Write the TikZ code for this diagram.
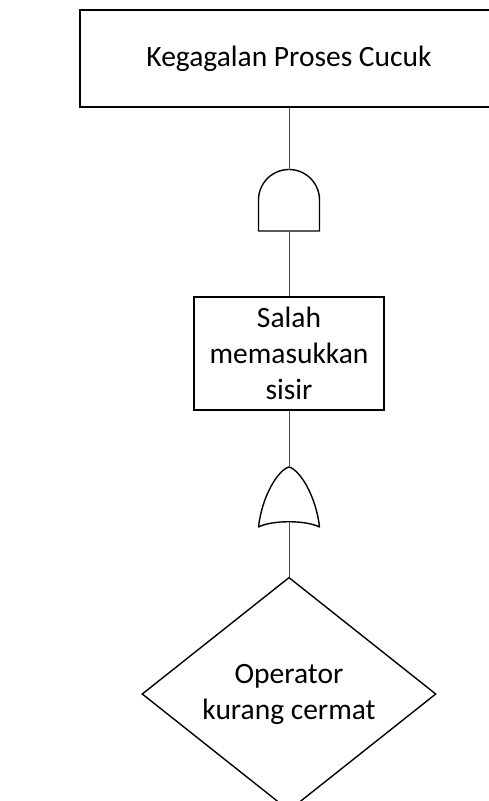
\documentclass[tikz,border=0pt]{standalone}
\usepackage{fontspec}
\setmainfont{Carlito}
\usetikzlibrary{shapes.geometric}

\begin{document}
\begin{tikzpicture}[x=1pt,y=1pt,
  event/.style={draw,line width=1.4pt,align=center,inner sep=0pt,font=\fontsize{29.5}{36}\selectfont},
  gate/.style={draw,line width=1.4pt,line join=round},
  link/.style={draw=black!70,line width=0.9pt}]
\useasboundingbox (0,0) rectangle (488,801);
\node[event,minimum width=418,minimum height=97] (top) at (289,742.5) {Kegagalan Proses Cucuk};
\node[event,minimum width=190,minimum height=113] (salah) at (289,447.5) {Salah\\memasukkan\\sisir};
\node[event,diamond,minimum width=294,minimum height=222] (operator) at (289,107) {Operator\\kurang cermat};
% and gate
\coordinate (andin) at (289,631);
\coordinate (andout) at (289,570);
\draw[gate] (258.5,570) -- (258.5,601) arc (180:0:30.5) -- (319.5,570) -- cycle;
% or gate
\coordinate (orin) at (289,334);
\coordinate (orout) at (289,279.3);
\draw[gate] (258.5,274) .. controls (262,305) and (278,331) .. (orin)
  .. controls (300,331) and (316,305) .. (319.5,274)
  .. controls (306,281) and (272,281) .. (258.5,274) -- cycle;
\draw[link] (top) -- (andin);
\draw[link] (andout) -- (salah);
\draw[link] (salah) -- (orin);
\draw[link] (orout) -- (operator);
\end{tikzpicture}
\end{document}
